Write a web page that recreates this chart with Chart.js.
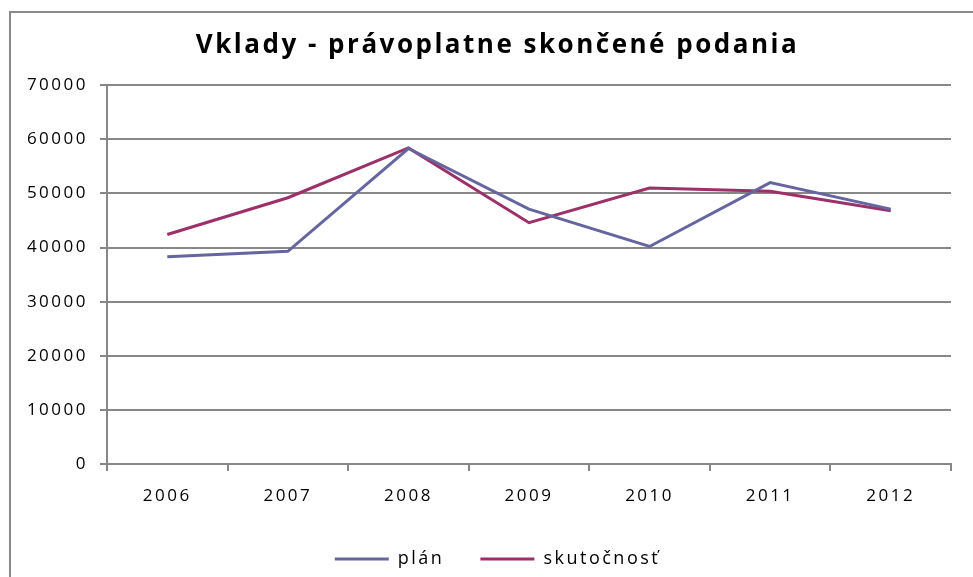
<!DOCTYPE html>
<html>
<head>
<meta charset="utf-8">
<script src="https://cdn.jsdelivr.net/npm/chart.js@4/dist/chart.umd.min.js"></script>
<style>
  html, body { margin: 0; padding: 0; background: #fff; }
  #frame {
    position: absolute; left: 9px; top: 11px; width: 980px; height: 600px;
    border-left: 2px solid #8a8a8a; border-top: 2px solid #8a8a8a;
  }
  #wrap { position: absolute; left: 0; top: 0; width: 973px; height: 577px; }
</style>
</head>
<body>
<div id="frame"></div>
<div id="wrap"><canvas id="vkladyChart"></canvas></div>
<script>
// Data
var years = ["2006", "2007", "2008", "2009", "2010", "2011", "2012"];
var plan = [38300, 39300, 58300, 47100, 40200, 52000, 47100];
var skutocnost = [42400, 49200, 58400, 44600, 51000, 50400, 46800];
var yTicks = [0, 10000, 20000, 30000, 40000, 50000, 60000, 70000];

var tickFont = { family: "Open Sans", size: 17 };
var gridColor = "#878787";

// the original uses widely spaced letters
var spacingPlugin = {
	id: "spacing",
	beforeUpdate: function (c) { c.ctx.letterSpacing = "2.5px"; },
	beforeDraw: function (c) { c.ctx.letterSpacing = "2.5px"; }
};

var dataSource = {
	labels: years,
	datasets: [{
		label: "plán",
		data: plan,
		borderColor: "#6565a0",
		backgroundColor: "#6565a0",
		borderWidth: 3,
		pointRadius: 0,
		tension: 0
	}, {
		label: "skutočnosť",
		data: skutocnost,
		borderColor: "#9c3068",
		backgroundColor: "#9c3068",
		borderWidth: 3,
		pointRadius: 0,
		tension: 0
	}]
};

var options = {
	animation: false,
	responsive: false,
	layout: { padding: { left: 22, right: 0, top: 0, bottom: -1 } },
	plugins: {
		title: {
			display: true,
			text: "Vklady - právoplatne skončené podania",
			color: "#000",
			font: { family: "Open Sans", size: 26, weight: "bold" },
			padding: { top: 30, bottom: 24 }
		},
		legend: {
			position: "bottom",
			labels: {
				usePointStyle: true,
				pointStyle: "line",
				pointStyleWidth: 54,
				color: "#000",
				font: { family: "Open Sans", size: 18 },
				padding: 36
			}
		},
		tooltip: { enabled: false }
	},
	scales: {
		x: {
			offset: true,
			afterFit: function (s) { s.height = 50; },
			grid: {
				offset: true,
				drawOnChartArea: false,
				drawTicks: true,
				tickLength: 7,
				color: gridColor,
				lineWidth: 2
			},
			border: { color: gridColor, width: 2 },
			ticks: { color: "#000", font: tickFont, padding: 15 }
		},
		y: {
			min: 0,
			max: 70000,
			afterFit: function (s) { s.width = 85; },
			afterBuildTicks: function (s) { s.ticks = yTicks.map(function (v) { return { value: v }; }); },
			grid: {
				color: gridColor,
				lineWidth: 2,
				tickLength: 7
			},
			border: { color: gridColor, width: 2 },
			ticks: {
				color: "#000",
				font: tickFont,
				padding: 12,
				callback: function (v) { return String(v); }
			}
		},
		// empty strip on the right, keeps the plot away from the edge
		yRight: {
			position: "right",
			min: 0,
			max: 70000,
			afterFit: function (s) { s.width = 22; },
			grid: { display: false },
			border: { display: false },
			ticks: { display: false }
		}
	}
};

var canvas = document.getElementById("vkladyChart");
canvas.width = 973;
canvas.height = 577;
var chart = new Chart(canvas.getContext("2d"), {
	type: "line",
	data: dataSource,
	options: options,
	plugins: [spacingPlugin]
});
</script>
</body>
</html>
